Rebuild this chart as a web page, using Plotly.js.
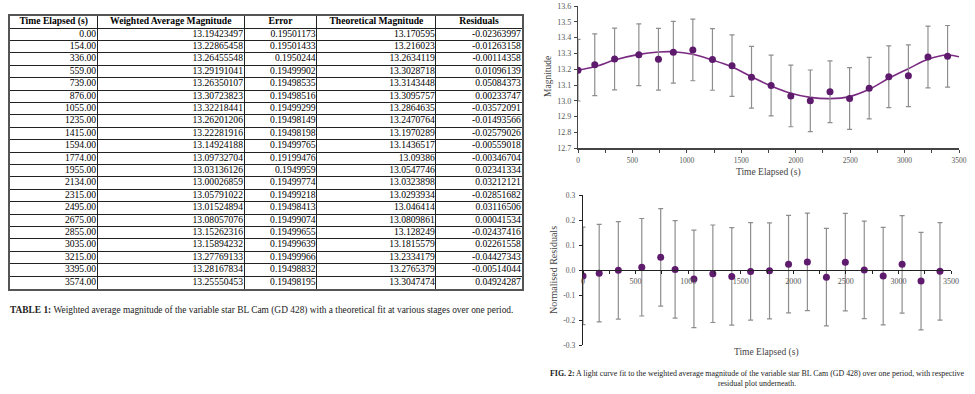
<!DOCTYPE html>
<html>
<head>
<meta charset="utf-8">
<script src="https://cdn.plot.ly/plotly-3.0.1.min.js"></script>
<style>html,body{margin:0;padding:0;background:#fff;}#chart{width:975px;height:394px;}</style>
</head>
<body>
<div id="chart"></div>
<script>
// ---- data ----
const timeElapsed = [0,154,336,559,739,876,1055,1235,1415,1594,1774,1955,2134,2315,2495,2675,2855,3035,3215,3395,3574];
const weightedMag = [13.19423497,13.22865458,13.26455548,13.29191041,13.26350107,13.30723823,13.32218441,13.26201206,13.22281916,13.14924188,13.09732704,13.03136126,13.00026859,13.05791022,13.01524894,13.08057076,13.15262316,13.15894232,13.27769133,13.28167834,13.25550453];
const errorMag = [0.19501173,0.19501433,0.1950244,0.19499902,0.19498535,0.19498516,0.19499299,0.19498149,0.19498198,0.19499765,0.19199476,0.1949959,0.19499774,0.19499218,0.19498413,0.19499074,0.19499655,0.19499639,0.19499966,0.19498832,0.19498195];
const theoreticalMag = [13.170595,13.216023,13.2634119,13.3028718,13.3143448,13.3095757,13.2864635,13.2470764,13.1970289,13.1436517,13.09386,13.0547746,13.0323898,13.0293934,13.046414,13.0809861,13.128249,13.1815579,13.2334179,13.2765379,13.3047474];
const residuals = [-0.02363997,-0.01263158,-0.00114358,0.01096139,0.05084373,0.00233747,-0.03572091,-0.01493566,-0.02579026,-0.00559018,-0.00346704,0.02341334,0.03212121,-0.02851682,0.03116506,0.00041534,-0.02437416,0.02261558,-0.04427343,-0.00514044,0.04924287];
// fitted light curve as drawn in the figure
const fitTime = [0,154,336,559,739,876,1055,1235,1415,1594,1774,1955,2134,2315,2495,2675,2855,3035,3215,3395,3500];
const fitMag = [13.195,13.216,13.258,13.294,13.309,13.311,13.295,13.258,13.214,13.153,13.094,13.048,13.022,13.014,13.027,13.073,13.143,13.203,13.263,13.29,13.279];
const tableHeaders = ["Time Elapsed (s)","Weighted Average Magnitude","Error","Theoretical Magnitude","Residuals"];
const tableCaption = "<b>TABLE 1:</b> Weighted average magnitude of the variable star BL Cam (GD 428) with a theoretical fit at various stages over one period.";
const figCaption = "<b>FIG. 2:</b> A light curve fit to the weighted average magnitude of the variable star BL Cam (GD 428) over one period, with respective<br>residual plot underneath.";
const magTicks = [12.7,12.8,12.9,13.0,13.1,13.2,13.3,13.4,13.5,13.6];
const resTicks = [-0.3,-0.2,-0.1,0.0,0.1,0.2,0.3];
const timeTicks = [0,500,1000,1500,2000,2500,3000,3500];

// ---- layout helpers ----
const W = 975, H = 394;
const px = x => x / W;
const py = y => 1 - y / H;
const FONT = 'Liberation Serif, Times New Roman, serif';
const MARK = '#5e1a6c';
const ERR = '#8e8e8e';

// table grid geometry (table units = pixels across the table width)
const colEdges = [0, 87.3, 234, 306.7, 425.7, 511.7];
const nRows = timeElapsed.length + 1;
const columns = [
  timeElapsed.map(t => t.toFixed(2)),
  weightedMag.map(String),
  errorMag.map(String),
  theoreticalMag.map(String),
  residuals.map(String)
];
const rowIdx = timeElapsed.map((_, i) => i + 1);

const traces = [];
// header texts
traces.push({
  type: 'scatter', mode: 'text', xaxis: 'x3', yaxis: 'y3',
  x: tableHeaders.map((_, c) => (colEdges[c] + colEdges[c + 1]) / 2),
  y: tableHeaders.map(() => 0),
  text: tableHeaders.map(h => '<b>' + h + '</b>'),
  textposition: 'middle center',
  textfont: {family: FONT, size: 9.6, color: '#000'},
  showlegend: false, hoverinfo: 'skip', cliponaxis: false
});
// body cells, right aligned
columns.forEach((col, c) => {
  traces.push({
    type: 'scatter', mode: 'text', xaxis: 'x3', yaxis: 'y3',
    x: col.map(() => colEdges[c + 1] - 1.2),
    y: rowIdx,
    text: col,
    textposition: 'middle left',
    textfont: {family: FONT, size: 9.6, color: '#000'},
    showlegend: false, hoverinfo: 'skip', cliponaxis: false
  });
});

traces.push({
  type: 'scatter', mode: 'lines', x: fitTime, y: fitMag,
  xaxis: 'x', yaxis: 'y',
  line: {color: '#7a2a82', width: 1.6, shape: 'spline', smoothing: 1},
  showlegend: false, hoverinfo: 'skip'
});
traces.push({
  type: 'scatter', mode: 'markers', x: timeElapsed, y: weightedMag,
  xaxis: 'x', yaxis: 'y',
  marker: {color: MARK, size: 7},
  error_y: {type: 'data', array: errorMag, visible: true, color: ERR, thickness: 1.2, width: 2.5},
  showlegend: false
});
traces.push({
  type: 'scatter', mode: 'markers', x: timeElapsed, y: residuals,
  xaxis: 'x2', yaxis: 'y2',
  marker: {color: MARK, size: 7},
  error_y: {type: 'data', array: errorMag, visible: true, color: ERR, thickness: 1.2, width: 2.5},
  showlegend: false
});

const titleFont = {family: FONT, size: 9.5, color: '#444'};
const rowLines = [];
for (let r = 0; r <= nRows; r++) rowLines.push(r - 0.5);

const layout = {
  width: W, height: H,
  margin: {l: 0, r: 0, t: 0, b: 0},
  paper_bgcolor: '#fff', plot_bgcolor: 'rgba(0,0,0,0)',
  font: {family: FONT},
  xaxis: {
    domain: [px(578), px(959)], range: [0, 3500], anchor: 'y',
    tickvals: timeTicks, ticks: '', showgrid: false, zeroline: false,
    showline: true, linecolor: '#444', linewidth: 1.2,
    minor: {dtick: 250, tick0: 0, ticks: 'outside', ticklen: 3, tickcolor: '#444', showgrid: false},
    tickfont: {family: FONT, size: 7.5, color: '#555'}, ticklabelstandoff: 4
  },
  yaxis: {
    domain: [py(148.3), py(6)], range: [12.7, 13.6], anchor: 'x',
    tickvals: magTicks, ticktext: magTicks.map(v => v.toFixed(1)),
    ticks: 'outside', ticklen: 3, tickcolor: '#444',
    showgrid: false, zeroline: false, showline: true, linecolor: '#444', linewidth: 1.2,
    tickfont: {family: FONT, size: 8, color: '#555'}, ticklabelstandoff: 1
  },
  xaxis2: {
    domain: [px(583), px(951)], range: [0, 3500], anchor: 'free', position: py(270),
    tickvals: timeTicks, ticks: '', showgrid: false, zeroline: false,
    showline: true, linecolor: '#222', linewidth: 1.3,
    minor: {dtick: 250, tick0: 0, ticks: 'outside', ticklen: 3, tickcolor: '#222', showgrid: false},
    tickfont: {family: FONT, size: 8, color: '#555'}, ticklabelstandoff: 3
  },
  yaxis2: {
    domain: [py(345), py(195)], range: [-0.3, 0.3], anchor: 'x2',
    tickvals: resTicks, ticktext: resTicks.map(v => v.toFixed(1)),
    ticks: 'outside', ticklen: 3, tickcolor: '#222',
    showgrid: false, zeroline: false, showline: true, linecolor: '#222', linewidth: 1.3,
    tickfont: {family: FONT, size: 7.5, color: '#555'}, ticklabelstandoff: 2
  },
  xaxis3: {
    domain: [px(10), px(522)], range: [0, colEdges[colEdges.length - 1]], anchor: 'y3',
    tickvals: colEdges, showticklabels: false, ticks: '',
    showgrid: true, gridcolor: '#222', gridwidth: 1, zeroline: false,
    showline: true, mirror: true, linecolor: '#555', linewidth: 2
  },
  yaxis3: {
    domain: [py(288.5), py(15.7)], range: [nRows - 0.5, -0.5], anchor: 'x3',
    tickvals: rowLines, showticklabels: false, ticks: '',
    showgrid: true, gridcolor: '#222', gridwidth: 1, zeroline: false,
    showline: true, mirror: true, linecolor: '#555', linewidth: 2
  },
  annotations: [
    {text: 'Magnitude', x: px(548), y: py(77), xref: 'paper', yref: 'paper', textangle: -90,
     showarrow: false, font: titleFont, xanchor: 'center', yanchor: 'middle'},
    {text: 'Time Elapsed (s)', x: px(768), y: py(172), xref: 'paper', yref: 'paper',
     showarrow: false, font: titleFont, xanchor: 'center', yanchor: 'middle'},
    {text: 'Normalised Residuals', x: px(553), y: py(270), xref: 'paper', yref: 'paper', textangle: -90,
     showarrow: false, font: {family: FONT, size: 10, color: '#444'}, xanchor: 'center', yanchor: 'middle'},
    {text: 'Time Elapsed (s)', x: px(766), y: py(352.5), xref: 'paper', yref: 'paper',
     showarrow: false, font: titleFont, xanchor: 'center', yanchor: 'middle'},
    {text: tableCaption, x: px(8), y: py(310), xref: 'paper', yref: 'paper',
     showarrow: false, font: {family: FONT, size: 9.4, color: '#222'}, xanchor: 'left', yanchor: 'middle'},
    {text: figCaption, x: px(757), y: py(378), xref: 'paper', yref: 'paper', align: 'center',
     showarrow: false, font: {family: FONT, size: 7.9, color: '#222'}, xanchor: 'center', yanchor: 'middle'}
  ]
};

Plotly.newPlot('chart', traces, layout, {displayModeBar: false, staticPlot: true});
</script>
</body>
</html>
